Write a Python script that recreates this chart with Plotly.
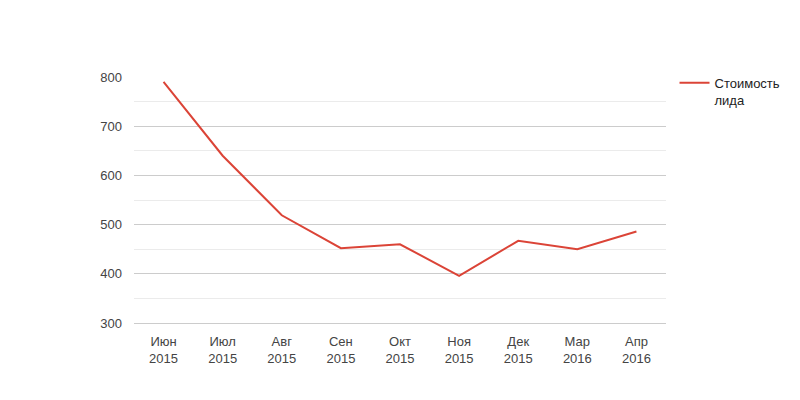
import plotly.graph_objects as go

months = ["Июн<br>2015", "Июл<br>2015", "Авг<br>2015", "Сен<br>2015", "Окт<br>2015",
          "Ноя<br>2015", "Дек<br>2015", "Мар<br>2016", "Апр<br>2016"]
cost = [790, 640, 519, 452, 460, 396, 467, 450, 486]
series_name = "Стоимость<br>лида"

fig = go.Figure()
fig.add_trace(go.Scatter(x=list(range(len(months))), y=cost, mode="lines", name=series_name,
                         line=dict(color="#db4437", width=2)))

fig.update_layout(
    width=800, height=400,
    margin=dict(l=126, r=142, t=69, b=85),
    plot_bgcolor="white", paper_bgcolor="white",
    font=dict(family="Liberation Sans, Arial", size=13, color="#444"),
    showlegend=True,
    legend=dict(x=1.016, y=1.037, xanchor="left", yanchor="top", font=dict(size=13, color="#222"),
                bgcolor="rgba(0,0,0,0)", itemwidth=30, valign="top"),
    xaxis=dict(range=[-0.5, len(months) - 0.5], tickmode="array",
               tickvals=list(range(len(months))), ticktext=months,
               showgrid=False, zeroline=False, showline=True, linecolor="#cccccc", linewidth=1,
               ticks="", ticklabelstandoff=6),
    yaxis=dict(range=[300, 800], dtick=100, showgrid=True, gridcolor="#cccccc",
               zeroline=False, showline=False, ticks="", ticklabelstandoff=11,
               minor=dict(dtick=50, showgrid=True, gridcolor="#ebebeb")),
)

fig.write_html("out.html")
